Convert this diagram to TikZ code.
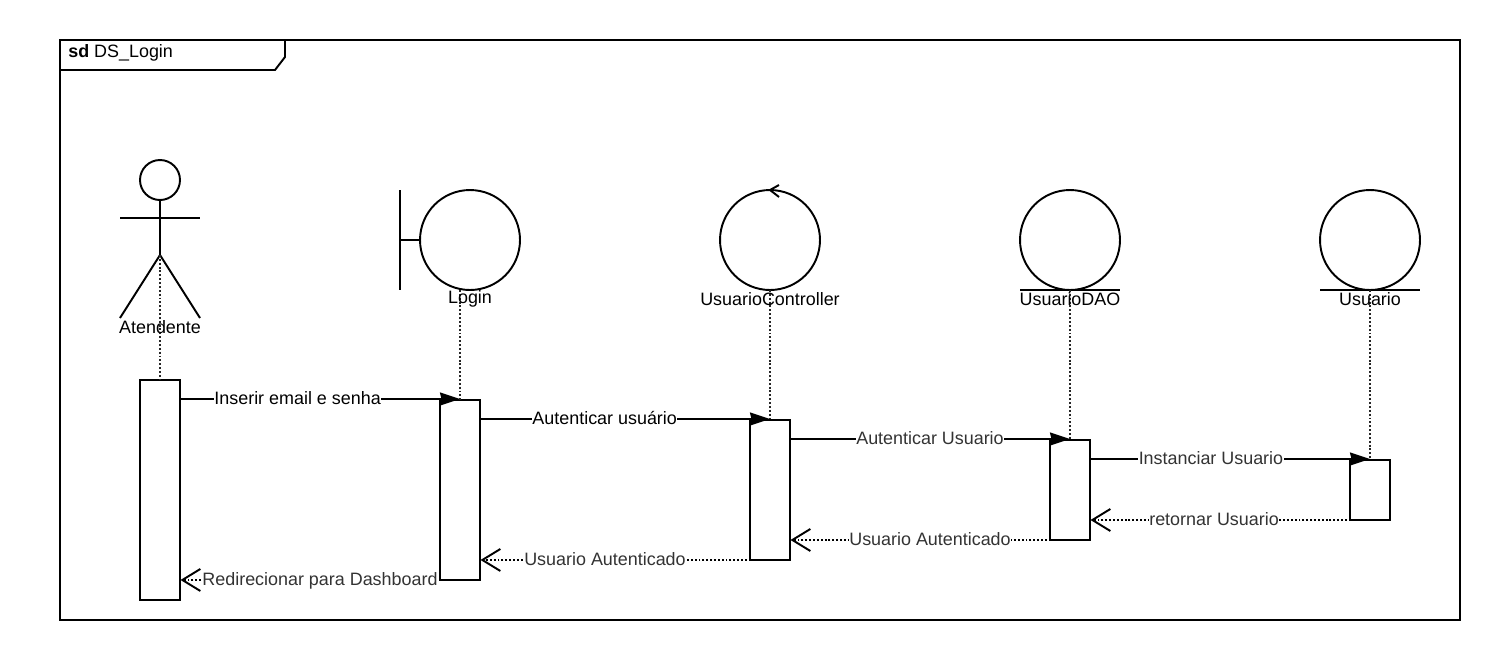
\documentclass[tikz,border=0pt]{standalone}
\usepackage{fontspec}
\setmainfont{Liberation Sans}
\usepackage{xcolor}
\usetikzlibrary{arrows.meta,positioning,calc}
\definecolor{msggray}{HTML}{333333}
\tikzset{
    lifeobj/.style={draw, circle, minimum size=2cm, inner sep=0pt, outer sep=0pt, line width=1.1pt},
    bar/.style={draw, fill=white, minimum width=0.8cm, inner sep=0pt, outer sep=0pt, line width=1.1pt},
    objlabel/.style={font=\fontsize{10.2pt}{12pt}\selectfont, inner sep=0pt},
    msglabel/.style={font=\fontsize{10.2pt}{12pt}\selectfont, fill=white, inner sep=0.3pt, text height=7.4pt, text depth=2.2pt, yshift=-0.6pt},
    lifeline/.style={dash pattern=on 1.1pt off 1.1pt, line width=1pt, black!85},
    call/.style={-{Stealth[length=0.4cm,width=0.26cm,inset=0.03cm]}, line width=1.1pt},
    reply/.style={dash pattern=on 1.1pt off 1.1pt, line width=0.9pt, shorten >=0.01cm, -{Straight Barb[length=0.36cm,width=0.44cm,line width=1.1pt]}},
}
\begin{document}
\begin{tikzpicture}[x=0.02cm, y=-0.02cm]
    \useasboundingbox (0,0) rectangle (1500,660);

    % frame
    \draw[line width=1.1pt] (60,40) rectangle (1460,620);
    \draw[line width=1.1pt] (60,70) -- (275,70) -- (285,57) -- (285,40);
    \node[objlabel, anchor=west] (title) at (68,53) {\textbf{sd} DS\_Login};

    % actor
    \draw[line width=1.1pt] (160,180) circle (20);
    \draw[line width=1.1pt] (160,200) -- (160,255);
    \draw[line width=1.1pt] (120,218) -- (200,218);
    \draw[line width=1.1pt] (120,318) -- (160,255) -- (200,318);
    \coordinate (atendenteTop) at (160,255);

    % lifeline objects
    \node[lifeobj] (login) at (470,240) {};
    \node[lifeobj] (controller) at (770,240) {};
    \node[lifeobj] (dao) at (1070,240) {};
    \node[lifeobj] (usuario) at (1370,240) {};

    % boundary, control and entity marks
    \draw[line width=1.1pt] (400,190) -- (400,290);
    \draw[line width=1.1pt] (400,240) -- (login.west);
    \draw[line width=1.1pt] (779,185) -- (770,190) -- (779,197);
    \draw[line width=1.1pt] (1020,290) -- (1120,290);
    \draw[line width=1.1pt] (1320,290) -- (1420,290);

    % activation bars
    \node[bar, minimum height=4.4cm, anchor=north] (barAtendente) at (160,380) {};
    \node[bar, minimum height=3.6cm, anchor=north] (barLogin) at (460,400) {};
    \node[bar, minimum height=2.8cm, anchor=north] (barController) at (770,420) {};
    \node[bar, minimum height=2cm, anchor=north] (barDao) at (1070,440) {};
    \node[bar, minimum height=1.2cm, anchor=north] (barUsuario) at (1370,460) {};

    % lifelines
    \draw[lifeline] (atendenteTop) -- (barAtendente.north);
    \draw[lifeline] (460,290) -- (barLogin.north);
    \draw[lifeline] (controller.south) -- (barController.north);
    \draw[lifeline] (dao.south) -- (barDao.north);
    \draw[lifeline] (usuario.south) -- (barUsuario.north);

    \node[objlabel] (atendenteText) at (160,327) {Atendente};
    \node[objlabel] (loginText) at (470,299) {Login};
    \node[objlabel] (controllerText) at (770,299) {UsuarioController};
    \node[objlabel] (daoText) at (1070,299) {UsuarioDAO};
    \node[objlabel] (usuarioText) at (1370,299) {Usuario};

    % calls
    \draw[call] (barAtendente.east |- 0,399) -- (barLogin.north |- 0,399)
        node[msglabel, pos=0.42] {Inserir email e senha};
    \draw[call] (barLogin.east |- 0,419) -- (barController.north |- 0,419)
        node[msglabel, pos=0.43] {Autenticar usuário};
    \draw[call] (barController.east |- 0,439) -- (barDao.north |- 0,439)
        node[msglabel, pos=0.5, text=msggray] {Autenticar Usuario};
    \draw[call] (barDao.east |- 0,459) -- (barUsuario.north |- 0,459)
        node[msglabel, pos=0.432, text=msggray] {Instanciar Usuario};

    % replies
    \draw[reply] (barUsuario.south) -- (barDao.east |- barUsuario.south)
        node[msglabel, pos=0.557, text=msggray] {retornar Usuario};
    \draw[reply] (barDao.south) -- (barController.east |- barDao.south)
        node[msglabel, pos=0.5, text=msggray] {Usuario Autenticado};
    \draw[reply] (barController.south) -- (barLogin.east |- barController.south)
        node[msglabel, pos=0.569, text=msggray] {Usuario Autenticado};
    \draw[reply] (barLogin.south) -- (barAtendente.east |- barLogin.south)
        node[msglabel, pos=0.5, text=msggray] {Redirecionar para Dashboard};
\end{tikzpicture}
\end{document}
